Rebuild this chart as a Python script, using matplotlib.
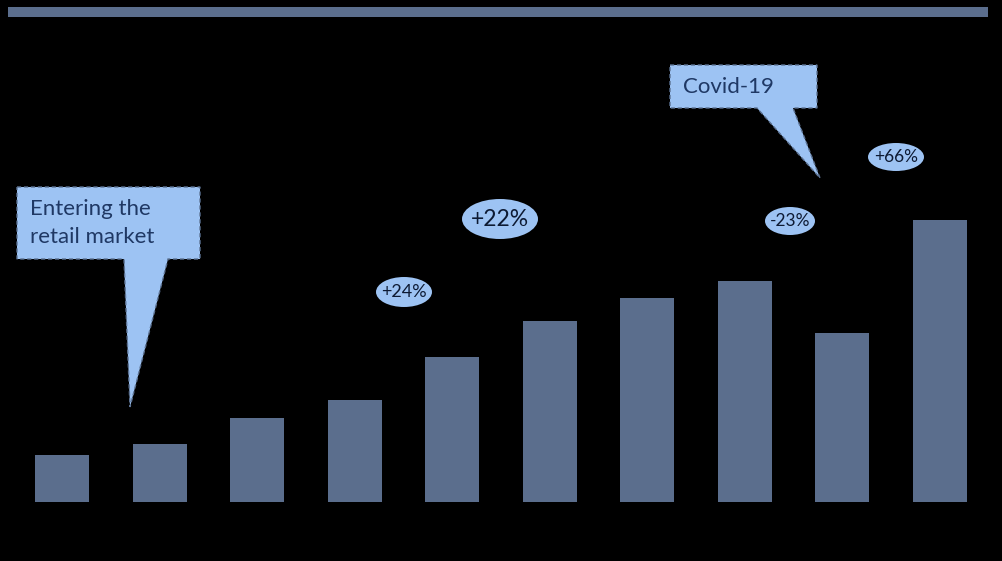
#!/usr/bin/env python3
"""Bar chart with callouts and growth-rate bubbles on a black background."""

import matplotlib

matplotlib.use("Agg")
import matplotlib.pyplot as plt  # noqa: E402
from matplotlib.patches import Ellipse, Polygon, Rectangle  # noqa: E402

# bar values (arbitrary units)
values = [47, 58, 84, 102, 145, 181, 204, 221, 169, 282]
positions = list(range(len(values)))

# growth bubbles: label, centre (px), size (px), font size
bubble_labels = ["+24%", "+22%", "-23%", "+66%"]
bubble_centres = [(404, 292), (500, 219), (790, 221), (896, 157)]
bubble_sizes = [(56, 30), (76, 40), (50, 28), (56, 28)]
bubble_fonts = [13, 16.5, 12.5, 12.5]

callout_texts = ["Entering the\nretail market", "Covid-19"]

BG = "#000000"
BAR = "#5b6e8d"
FILL = "#9dc3f3"
EDGE = "#5d7394"
TEXT = "#1f3864"
FONT = ["Lato", "DejaVu Sans"]

W, H = 1003, 561
fig = plt.figure(figsize=(W / 100, H / 100), dpi=100, facecolor=BG)

# data axes fill the whole figure; x unit = one bar slot, y unit = one pixel
ax = fig.add_axes([0, 0, 1, 1])
ax.set_facecolor(BG)
step = 97.55
ax.set_xlim(-62 / step, (W - 62) / step)
ax.set_ylim(-(H - 502), 502)
ax.bar(positions, values, width=0.554, color=BAR, zorder=2)
ax.axis("off")

# overlay in pixel coordinates for the decorations
ov = fig.add_axes([0, 0, 1, 1], facecolor="none")
ov.set_xlim(0, W)
ov.set_ylim(H, 0)
ov.axis("off")

# band across the top
ov.add_patch(Rectangle((8, 7), 980, 10, color=BAR, lw=0))

# callout shapes
callout1 = [(17, 187), (200, 187), (200, 259), (168, 259), (130, 407),
            (124, 259), (17, 259)]
callout2 = [(670, 65), (817, 65), (817, 108), (793, 108), (820, 178),
            (757, 108), (670, 108)]
for pts in (callout1, callout2):
    ov.add_patch(Polygon(pts, closed=True, facecolor=FILL, edgecolor=EDGE,
                         lw=1.0, ls=(0, (3, 2)), zorder=3))

ov.text(30, 223, callout_texts[0], color=TEXT, fontsize=16, family=FONT,
        va="center", ha="left", linespacing=1.45, zorder=4)
ov.text(683, 87, callout_texts[1], color=TEXT, fontsize=16, family=FONT,
        va="center", ha="left", zorder=4)

for label, (cx, cy), (bw, bh), fs in zip(bubble_labels, bubble_centres,
                                         bubble_sizes, bubble_fonts):
    ov.add_patch(Ellipse((cx, cy), bw, bh, facecolor=FILL, edgecolor="none",
                         zorder=3))
    ov.text(cx, cy, label, color="#0d1a33", fontsize=fs, family=FONT,
            ha="center", va="center", zorder=4)

fig.savefig("out.png", dpi=100, facecolor=BG)
